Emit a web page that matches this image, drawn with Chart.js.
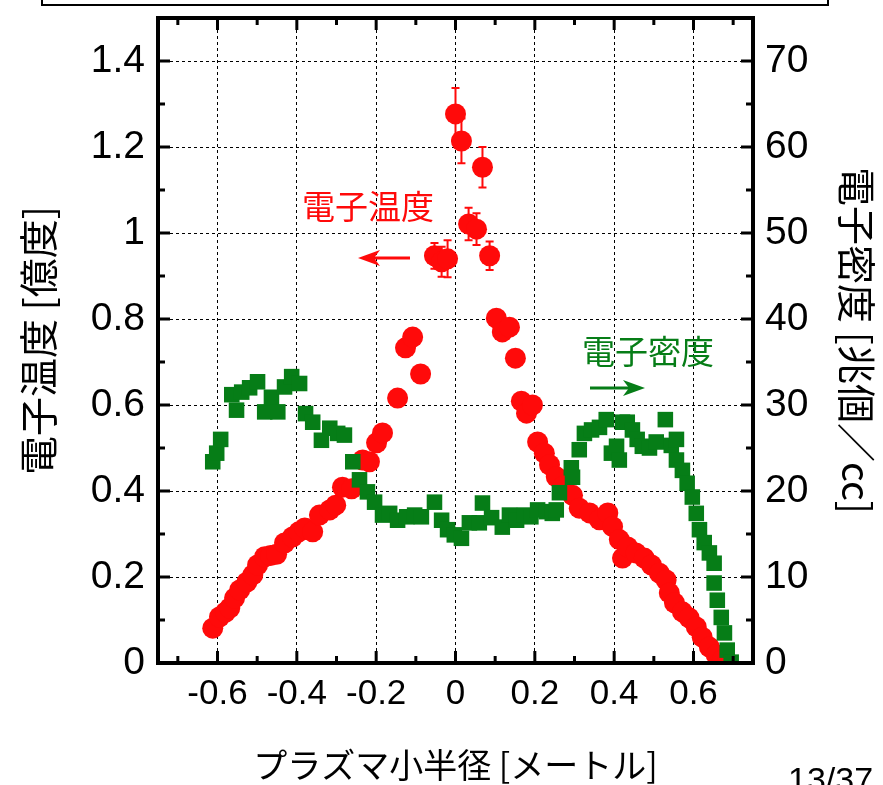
<!DOCTYPE html>
<html lang="ja">
<head>
<meta charset="UTF-8">
<title>電子温度・電子密度分布</title>
<script src="https://cdn.jsdelivr.net/npm/chart.js"></script>
<style>
  html, body { margin: 0; padding: 0; background: #fff; }
  #wrap { width: 883px; height: 785px; position: relative; }
</style>
</head>
<body>
<div id="wrap"><canvas id="chart" width="883" height="785"></canvas></div>
<script>
// Electron temperature (red circles, left axis, 億度)
const tempR   = [-0.612,-0.595,-0.580,-0.569,-0.557,-0.544,-0.526,-0.511,-0.499,-0.481,-0.466,-0.451,-0.431,-0.411,-0.395,-0.380,-0.360,-0.343,-0.317,-0.302,-0.285,-0.262,-0.234,-0.217,-0.199,-0.184,-0.146,-0.126,-0.108,-0.088,
                 -0.053,-0.035,-0.020,0.000,0.015,0.033,0.053,0.068,0.086,
                 0.103,0.118,0.136,0.151,0.166,0.179,0.194,0.207,0.224,0.237,0.254,0.270,0.295,0.312,0.338,0.363,0.384,0.396,0.413,0.421,0.434,0.455,0.476,0.494,0.514,0.531,0.539,0.552,0.572,0.589,0.607,0.622,0.640,0.657,0.673,0.685];
const tempVal = [0.081,0.107,0.118,0.128,0.151,0.170,0.188,0.205,0.228,0.247,0.250,0.253,0.279,0.293,0.305,0.314,0.305,0.344,0.356,0.367,0.409,0.405,0.472,0.468,0.512,0.535,0.616,0.733,0.758,0.672,
                 0.947,0.933,0.940,1.277,1.214,1.021,1.009,1.153,0.947,
                 0.802,0.770,0.781,0.709,0.609,0.581,0.600,0.514,0.488,0.461,0.433,0.410,0.390,0.360,0.349,0.333,0.349,0.317,0.287,0.244,0.270,0.256,0.244,0.228,0.209,0.193,0.163,0.140,0.119,0.105,0.084,0.060,0.037,0.019,0.007,0.002];
const tempErr = [0,0,0,0,0,0,0,0,0,0,0,0,0,0,0,0,0,0,0,0,0,0,0,0,0,0,0,0,0,0,
                 0.030,0.035,0.043,0.060,0.052,0.038,0.037,0.047,0.033,
                 0,0,0,0,0,0,0,0,0,0,0,0,0,0,0,0,0,0,0,0,0,0,0,0,0,0,0,0,0,0,0,0,0,0,0,0];

// Electron density (green squares, right axis, 兆個/cc)
const densR   = [-0.612,-0.602,-0.592,-0.564,-0.552,-0.539,-0.519,-0.499,-0.481,-0.464,-0.448,-0.431,-0.413,-0.393,-0.378,-0.360,-0.338,-0.317,-0.297,-0.280,-0.259,-0.242,-0.222,-0.204,-0.184,-0.166,-0.146,-0.123,-0.103,-0.086,
                 -0.053,-0.035,-0.020,-0.003,0.015,0.035,0.060,0.068,0.091,0.118,0.136,0.154,0.174,0.190,0.207,0.229,0.244,0.254,0.262,
                 0.292,0.295,0.312,0.325,0.343,0.363,0.380,0.393,0.406,0.413,0.421,0.433,0.446,0.458,0.471,0.489,0.506,0.529,0.544,0.557,0.557,0.572,0.584,0.597,0.607,0.615,0.627,0.640,0.652,0.652,0.660,0.670,0.678,0.685,0.695];
const densVal = [23.4,24.4,26.0,31.2,29.4,31.5,32.0,32.7,29.2,30.9,29.2,32.1,33.3,32.5,29.0,28.0,25.9,27.3,26.7,26.5,23.4,21.3,19.9,18.7,17.2,17.4,16.6,17.0,17.2,17.0,
                 18.7,16.6,15.5,14.9,14.5,16.3,16.3,18.6,16.9,15.8,17.2,16.6,17.2,17.0,17.8,17.6,17.4,17.8,19.8,
                 22.7,21.6,24.8,26.7,27.1,27.4,28.3,24.4,25.2,23.6,28.0,28.0,27.1,26.0,25.2,25.0,25.7,28.3,25.3,26.0,23.6,22.4,20.9,19.3,17.4,15.5,14.0,12.8,11.6,9.3,7.3,5.3,3.5,1.5,0.1];

// Axis ticks
const xTicks      = [-0.6,-0.4,-0.2,0,0.2,0.4,0.6];
const xMinorTicks = [-0.7,-0.5,-0.3,-0.1,0.1,0.3,0.5,0.7];
const yTicks      = [0,0.2,0.4,0.6,0.8,1.0,1.2,1.4];
const yMinorTicks = [0.1,0.3,0.5,0.7,0.9,1.1,1.3];
const y2Ticks      = [0,10,20,30,40,50,60,70];
const y2MinorTicks = [5,15,25,35,45,55,65];

const RED = '#ff0a0a';
const GREEN = '#067d17';
const NUM_FONT = '"Liberation Sans", Arial, sans-serif';
const JP_FONT = '"Noto Sans CJK JP", "Noto Sans", sans-serif';

function fmt(v) {
  const r = Math.round(v * 10) / 10;
  return r === 0 ? '0' : String(r);
}

// frame, inward ticks, error bars and annotations
const decorPlugin = {
  id: 'decor',
  beforeDatasetsDraw(chart) {
    const ctx = chart.ctx, xs = chart.scales.x, ys = chart.scales.y;
    ctx.save();
    ctx.strokeStyle = RED;
    ctx.lineWidth = 2;
    tempErr.forEach((e, i) => {
      if (!e) return;
      const px = xs.getPixelForValue(tempR[i]);
      const top = ys.getPixelForValue(tempVal[i] + e);
      const bot = ys.getPixelForValue(tempVal[i] - e);
      ctx.beginPath();
      ctx.moveTo(px, top); ctx.lineTo(px, bot);
      ctx.moveTo(px - 4, top); ctx.lineTo(px + 4, top);
      ctx.moveTo(px - 4, bot); ctx.lineTo(px + 4, bot);
      ctx.stroke();
    });
    ctx.restore();
  },
  afterDraw(chart) {
    const ctx = chart.ctx, a = chart.chartArea;
    const xs = chart.scales.x, ys = chart.scales.y, y2 = chart.scales.y2;
    ctx.save();
    ctx.strokeStyle = '#000';
    ctx.lineWidth = 3;
    ctx.beginPath();
    xTicks.forEach(v => {
      const p = xs.getPixelForValue(v);
      ctx.moveTo(p, a.bottom); ctx.lineTo(p, a.bottom - 12);
      ctx.moveTo(p, a.top); ctx.lineTo(p, a.top + 12);
    });
    xMinorTicks.forEach(v => {
      const p = xs.getPixelForValue(v);
      ctx.moveTo(p, a.bottom); ctx.lineTo(p, a.bottom - 7);
      ctx.moveTo(p, a.top); ctx.lineTo(p, a.top + 7);
    });
    yTicks.forEach(v => {
      const p = ys.getPixelForValue(v);
      ctx.moveTo(a.left, p); ctx.lineTo(a.left + 12, p);
    });
    yMinorTicks.forEach(v => {
      const p = ys.getPixelForValue(v);
      ctx.moveTo(a.left, p); ctx.lineTo(a.left + 7, p);
    });
    y2Ticks.forEach(v => {
      const p = y2.getPixelForValue(v);
      ctx.moveTo(a.right, p); ctx.lineTo(a.right - 12, p);
    });
    y2MinorTicks.forEach(v => {
      const p = y2.getPixelForValue(v);
      ctx.moveTo(a.right, p); ctx.lineTo(a.right - 7, p);
    });
    ctx.stroke();

    ctx.lineWidth = 4;
    ctx.strokeRect(a.left, a.top, a.right - a.left, a.bottom - a.top);

    // leftover slide box at the very top
    ctx.lineWidth = 2;
    ctx.strokeRect(42, -10, 786, 15);

    // annotations
    ctx.font = '33px ' + JP_FONT;
    ctx.textAlign = 'center';
    ctx.textBaseline = 'middle';
    ctx.fillStyle = RED;
    ctx.fillText('電子温度', 368, 206);
    ctx.fillStyle = GREEN;
    ctx.fillText('電子密度', 648, 351);

    function arrow(x1, x2, y, color) {
      const dir = Math.sign(x2 - x1);
      ctx.strokeStyle = color;
      ctx.fillStyle = color;
      ctx.lineWidth = 3;
      ctx.beginPath();
      ctx.moveTo(x1, y); ctx.lineTo(x2 - dir * 14, y);
      ctx.stroke();
      ctx.beginPath();
      ctx.moveTo(x2, y);
      ctx.lineTo(x2 - dir * 22, y - 8);
      ctx.lineTo(x2 - dir * 16, y);
      ctx.lineTo(x2 - dir * 22, y + 8);
      ctx.closePath();
      ctx.fill();
    }
    arrow(410, 358, 258, RED);
    arrow(590, 645, 388, GREEN);

    // page number, cut by the bottom edge
    ctx.fillStyle = '#000';
    ctx.font = '34px ' + NUM_FONT;
    ctx.textAlign = 'left';
    ctx.textBaseline = 'alphabetic';
    ctx.fillText('13/37', 788, 791);
    ctx.restore();
  }
};

new Chart(document.getElementById('chart'), {
  type: 'scatter',
  data: {
    datasets: [
      {
        label: '電子密度',
        data: densR.map((r, i) => ({ x: r, y: densVal[i] })),
        yAxisID: 'y2',
        pointStyle: 'rect',
        pointRadius: 11,
        pointHoverRadius: 11,
        borderWidth: 0,
        backgroundColor: GREEN,
        order: 1
      },
      {
        label: '電子温度',
        data: tempR.map((r, i) => ({ x: r, y: tempVal[i] })),
        yAxisID: 'y',
        pointStyle: 'circle',
        pointRadius: 10.5,
        pointHoverRadius: 10.5,
        borderWidth: 0,
        backgroundColor: RED,
        order: 2
      }
    ]
  },
  options: {
    responsive: false,
    animation: false,
    layout: { padding: { top: 18, left: 0, right: 0, bottom: 0 } },
    plugins: { legend: { display: false }, tooltip: { enabled: false } },
    scales: {
      x: {
        type: 'linear',
        min: -0.75, max: 0.75,
        afterFit: s => { s.height = 122; s.paddingLeft = 0; s.paddingRight = 0; },
        afterBuildTicks: s => { s.ticks = xTicks.map(v => ({ value: v })); },
        grid: { color: '#000', lineWidth: 1, drawTicks: false },
        border: { display: false, dash: [3, 3] },
        ticks: {
          autoSkip: false, maxRotation: 0, padding: 10, color: '#000',
          font: { family: NUM_FONT, size: 35 },
          callback: v => fmt(v)
        },
        title: {
          display: true, text: 'プラズマ小半径 [メートル]', color: '#000',
          font: { family: JP_FONT, size: 34 }, padding: { top: 0, bottom: 0 }
        }
      },
      y: {
        type: 'linear', position: 'left',
        min: 0, max: 1.5,
        afterFit: s => { s.width = 158; s.paddingTop = 0; s.paddingBottom = 0; },
        afterBuildTicks: s => { s.ticks = yTicks.map(v => ({ value: v })); },
        grid: { color: '#000', lineWidth: 1, drawTicks: false },
        border: { display: false, dash: [3, 3] },
        ticks: {
          autoSkip: false, padding: 13, color: '#000',
          font: { family: NUM_FONT, size: 39 },
          callback: v => fmt(v)
        },
        title: {
          display: true, text: '電子温度 [億度]', color: '#000',
          font: { family: JP_FONT, size: 39 }, padding: { top: 15, bottom: 0 }
        }
      },
      y2: {
        type: 'linear', position: 'right',
        min: 0, max: 75,
        afterFit: s => { s.width = 130; s.paddingTop = 0; s.paddingBottom = 0; },
        afterBuildTicks: s => { s.ticks = y2Ticks.map(v => ({ value: v })); },
        grid: { display: false, drawTicks: false },
        border: { display: false },
        ticks: {
          autoSkip: false, padding: 12, color: '#000',
          font: { family: NUM_FONT, size: 39 },
          callback: v => String(v)
        },
        title: {
          display: true, text: '電子密度 [兆個／cc]', color: '#000',
          font: { family: JP_FONT, size: 39 }, padding: { top: 3, bottom: 0 }
        }
      }
    }
  },
  plugins: [decorPlugin]
});
</script>
</body>
</html>
